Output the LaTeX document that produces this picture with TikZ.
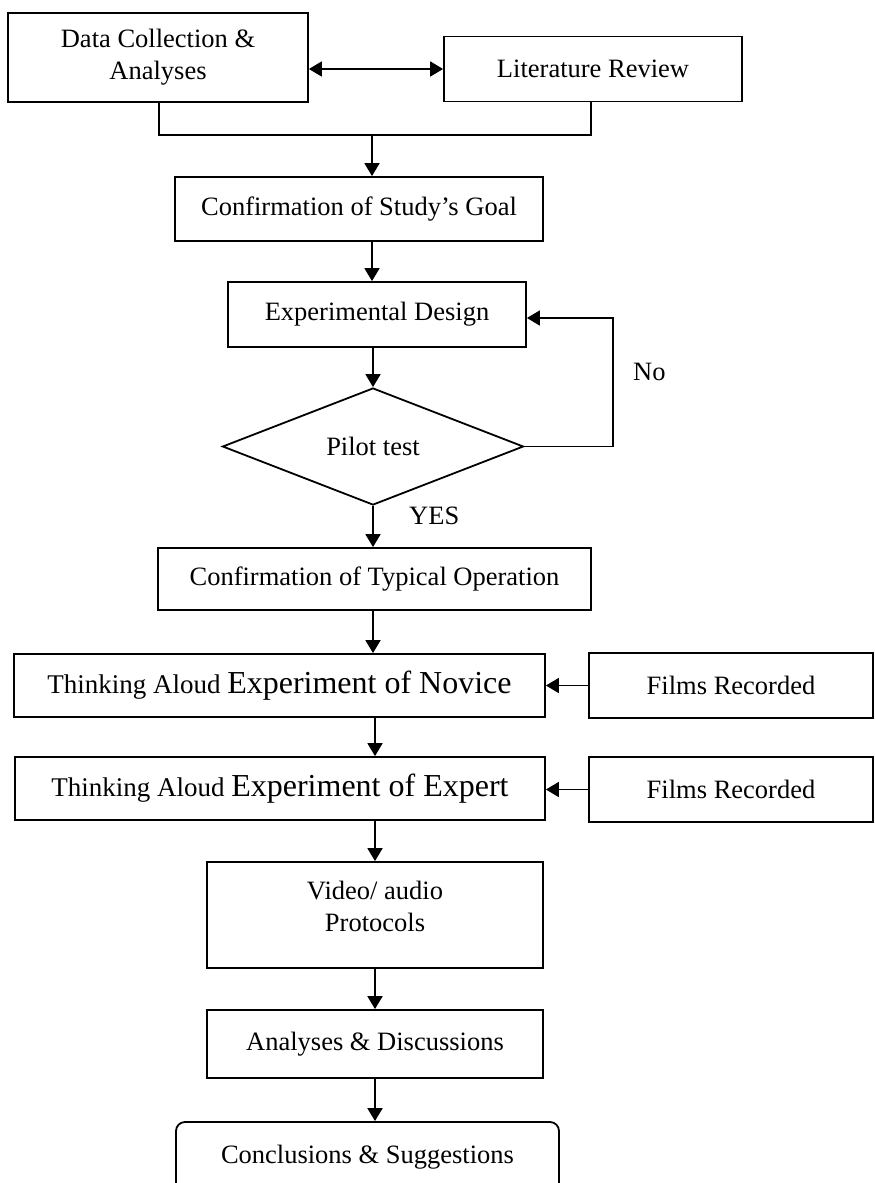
\documentclass[tikz,border=0pt]{standalone}
\usepackage{fontspec}
\setmainfont{Liberation Serif}
\usetikzlibrary{arrows.meta,shapes.geometric}
\begin{document}
\begin{tikzpicture}[x=1pt,y=-1pt,
  box/.style={draw,line width=1.8pt,rectangle,inner sep=0pt,font=\fontsize{26.5}{32}\selectfont,align=center},
  conn/.style={line width=1.8pt},
  arr/.style={conn,-{Triangle[length=13pt,width=15pt]}},
  dblarr/.style={conn,{Triangle[length=13pt,width=15pt]}-{Triangle[length=13pt,width=15pt]}},
  lbl/.style={font=\fontsize{26.5}{32}\selectfont,inner sep=0pt,align=center}]
\useasboundingbox (0,0) rectangle (875,1183);

% nodes
\node[box,minimum width=300,minimum height=89] (A) at (158,57.5) {Data Collection \&\\Analyses};
\node[box,minimum width=298,minimum height=65] (B) at (593,69) {Literature Review};
\node[box,minimum width=368,minimum height=64] (C) at (359,209) {Confirmation of Study's Goal};
\node[box,minimum width=298,minimum height=65] (D) at (377,314.5) {Experimental Design};
\node[draw,diamond,line width=1.8pt,inner sep=0pt,aspect=2.57,minimum width=301,minimum height=117,font=\fontsize{26.5}{32}\selectfont] (P) at (373,446.5) {Pilot test};
\node[box,minimum width=433,minimum height=62] (E) at (374.5,579) {Confirmation of Typical Operation};
\node[box,minimum width=531,minimum height=63] (F) at (279.5,685.5) {{\fontsize{27}{32}\selectfont Thinking Aloud} {\fontsize{32}{36}\selectfont Experiment of Novice}};
\node[box,minimum width=284,minimum height=65] (R1) at (731,685.5) {Films Recorded};
\node[box,minimum width=530,minimum height=63] (G) at (280,788.5) {{\fontsize{27}{32}\selectfont Thinking Aloud} {\fontsize{32}{36}\selectfont Experiment of Expert}};
\node[box,minimum width=284,minimum height=65] (R2) at (731,789.5) {Films Recorded};
\node[box,minimum width=336,minimum height=106] (H) at (375,915) {};
\node[lbl] (Ht) at (375,906) {Video/ audio\\Protocols};
\node[box,minimum width=336,minimum height=68] (I) at (375,1044) {Analyses \& Discussions};
\node[box,rounded corners=9pt,minimum width=383,minimum height=70] (J) at (367.5,1157) {Conclusions \& Suggestions};

\node[lbl,anchor=west] (no) at (633,372) {No};
\node[lbl,anchor=west] (yes) at (409,516) {YES};

% connectors
\draw[dblarr] (A.east |- B.west) -- (B.west);
\coordinate (j1) at (159,135);
\coordinate (j2) at (591,135);
\coordinate (jm) at (372,135);
\draw[conn] (A.south -| j1) -- (j1) -- (j2) -- (B.south -| j2);
\draw[arr] (jm) -- (jm |- C.north);
\draw[arr] (jm |- C.south) -- (jm |- D.north);
\draw[arr] (P.north |- D.south) -- (P.north);
\coordinate (fb) at (613,318);
\draw[arr] (P.east) -| (fb) -- (fb -| D.east);
\draw[arr] (P.south) -- (P.south |- E.north);
\draw[arr] (P.south |- E.south) -- (P.south |- F.north);
\draw[arr] (F.south -| H.north) -- (G.north -| H.north);
\draw[arr] (R1.west) -- (R1.west -| F.east);
\draw[arr] (R2.west) -- (R2.west -| G.east);
\draw[arr] (G.south -| H.north) -- (H.north);
\draw[arr] (H.south) -- (I.north);
\draw[arr] (I.south -| H.south) -- (H.south |- J.north);
\end{tikzpicture}
\end{document}
